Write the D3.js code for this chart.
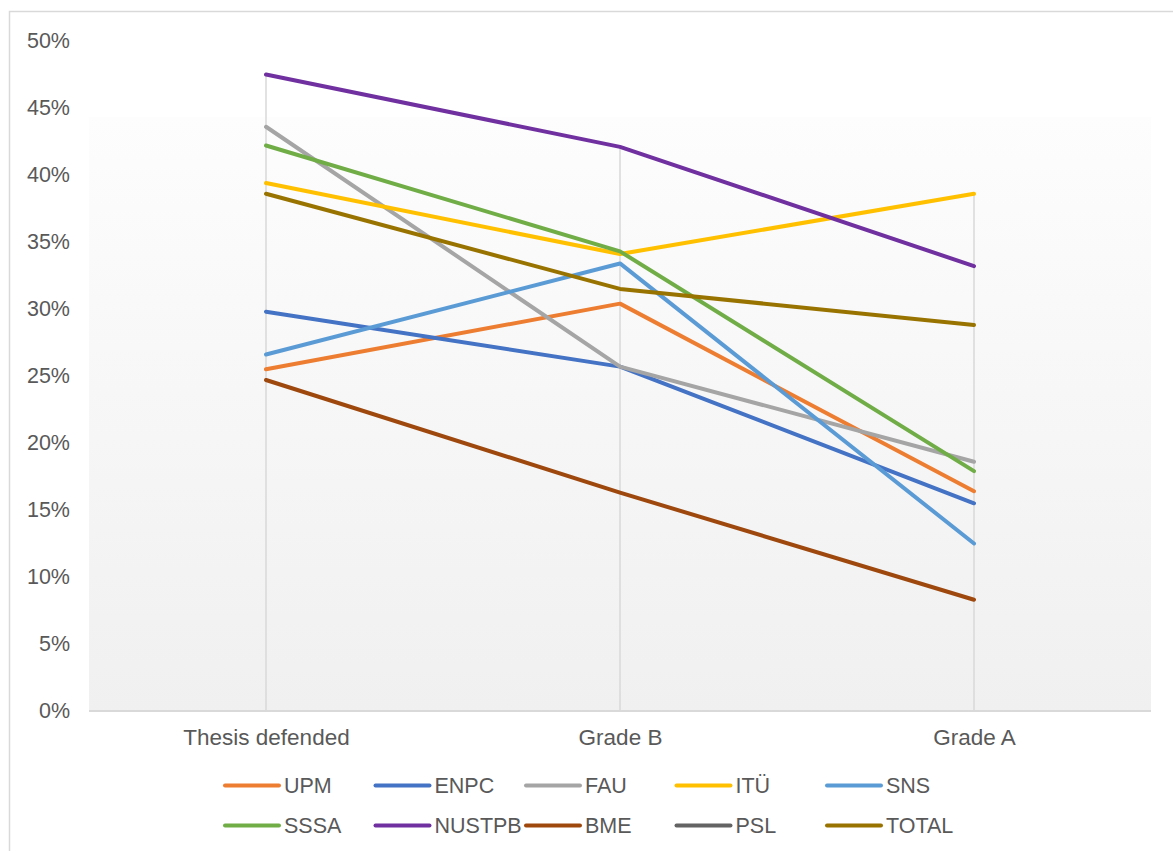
<!DOCTYPE html>
<html>
<head>
<meta charset="utf-8">
<script src="https://cdn.jsdelivr.net/npm/d3@7"></script>
<style>
  html, body { margin: 0; padding: 0; background: #ffffff; }
  svg { display: block; font-family: "Liberation Sans", Arial, sans-serif; }
</style>
</head>
<body>
<svg id="chart" width="1173" height="851"></svg>
<script>
// Categories along the x axis
const categories = ["Thesis defended", "Grade B", "Grade A"];

// Share of students per institution (fractions)
const UPM    = [0.255, 0.304, 0.164];
const ENPC   = [0.298, 0.257, 0.155];
const FAU    = [0.436, 0.257, 0.186];
const ITU    = [0.394, 0.341, 0.386];
const SNS    = [0.266, 0.334, 0.125];
const SSSA   = [0.422, 0.343, 0.179];
const NUSTPB = [0.475, 0.421, 0.332];
const BME    = [0.247, 0.163, 0.083];
const PSL    = [null, null, null];
const TOTAL  = [0.386, 0.315, 0.288];

const seriesNames  = ["UPM", "ENPC", "FAU", "ITÜ", "SNS", "SSSA", "NUSTPB", "BME", "PSL", "TOTAL"];
const seriesValues = [UPM, ENPC, FAU, ITU, SNS, SSSA, NUSTPB, BME, PSL, TOTAL];
const seriesColors = ["#ED7D31", "#4472C4", "#A5A5A5", "#FFC000", "#5B9BD5",
                      "#70AD47", "#7030A0", "#9E480E", "#636363", "#997300"];

const yTicks = [0, 0.05, 0.10, 0.15, 0.20, 0.25, 0.30, 0.35, 0.40, 0.45, 0.50];

const series = seriesNames.map((name, i) => ({
  name, color: seriesColors[i], values: seriesValues[i]
}));

const svg = d3.select("#chart");
const textColor = "#595959";
const gridColor = "#d9d9d9";

// Chart frame
svg.append("rect")
  .attr("x", 9.5).attr("y", 11.5)
  .attr("width", 1200).attr("height", 900)
  .attr("fill", "#ffffff")
  .attr("stroke", gridColor).attr("stroke-width", 1.5);

const plotLeft = 89, plotRight = 1151, plotTop = 41, plotBottom = 711;

const x = d3.scalePoint().domain(categories).range([plotLeft, plotRight]).padding(0.5);
const y = d3.scaleLinear().domain([0, 0.5]).range([plotBottom, plotTop]);

// Plot area gradient fill
const defs = svg.append("defs");
const grad = defs.append("linearGradient")
  .attr("id", "plotBg").attr("x1", 0).attr("y1", 0).attr("x2", 0).attr("y2", 1);
grad.append("stop").attr("offset", "0%").attr("stop-color", "#fdfdfd");
grad.append("stop").attr("offset", "100%").attr("stop-color", "#f0f0f0");

svg.append("rect")
  .attr("x", plotLeft).attr("y", 117)
  .attr("width", plotRight - plotLeft).attr("height", plotBottom - 117)
  .attr("fill", "url(#plotBg)");

// Drop lines from the highest point of each category down to the axis
categories.forEach((c, j) => {
  const top = d3.max(series, s => s.values[j]);
  svg.append("line")
    .attr("x1", x(c)).attr("x2", x(c))
    .attr("y1", y(top)).attr("y2", plotBottom)
    .attr("stroke", gridColor).attr("stroke-width", 1.5);
});

// Y axis (labels only)
const yAxis = svg.append("g")
  .attr("transform", `translate(${plotLeft},0)`)
  .call(d3.axisLeft(y).tickValues(yTicks).tickFormat(d3.format(".0%")).tickSize(0).tickPadding(19));
yAxis.select(".domain").remove();
yAxis.selectAll("text")
  .attr("fill", textColor).style("font-size", "21.5px")
  .style("font-family", "'Liberation Sans', Arial, sans-serif");

// X axis
const xAxis = svg.append("g")
  .attr("transform", `translate(0,${plotBottom})`)
  .call(d3.axisBottom(x).tickSize(0).tickPadding(18));
xAxis.select(".domain")
  .attr("d", `M${plotLeft},0H${plotRight}`)
  .attr("stroke", gridColor).attr("stroke-width", 2);
xAxis.selectAll("text")
  .attr("fill", textColor).style("font-size", "22.5px")
  .style("font-family", "'Liberation Sans', Arial, sans-serif");

// Series lines
const line = d3.line()
  .defined(d => d.v !== null)
  .x(d => x(d.c))
  .y(d => y(d.v));

svg.append("g").selectAll("path")
  .data(series)
  .join("path")
  .attr("d", s => line(s.values.map((v, j) => ({ c: categories[j], v }))))
  .attr("fill", "none")
  .attr("stroke", s => s.color)
  .attr("stroke-width", 4)
  .attr("stroke-linecap", "round")
  .attr("stroke-linejoin", "round");

// Legend: two rows of five
const legend = svg.append("g");
const colStep = 150.5, rowStep = 40, legX = 225, legY = 785.5;
series.forEach((s, i) => {
  const col = i % 5, row = Math.floor(i / 5);
  const lx = legX + col * colStep, ly = legY + row * rowStep;
  legend.append("line")
    .attr("x1", lx).attr("x2", lx + 54)
    .attr("y1", ly).attr("y2", ly)
    .attr("stroke", s.color).attr("stroke-width", 4)
    .attr("stroke-linecap", "round");
  legend.append("text")
    .attr("x", lx + 59).attr("y", ly)
    .attr("dominant-baseline", "central")
    .attr("fill", textColor)
    .style("font-size", "21.5px")
    .text(s.name);
});
</script>
</body>
</html>
